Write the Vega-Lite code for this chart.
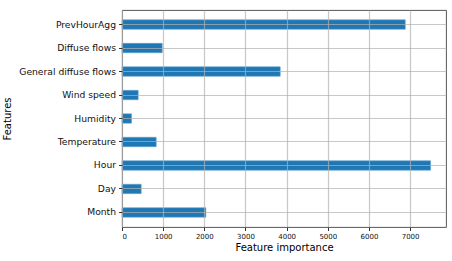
{
  "$schema": "https://vega.github.io/schema/vega-lite/v6.json",
  "autosize": "none",
  "width": 324,
  "height": 217,
  "padding": {"left": 122, "top": 10, "right": 6, "bottom": 34},
  "background": "white",
  "config": {
    "font": "DejaVu Sans",
    "view": {"stroke": "#444444", "strokeWidth": 0.9}
  },
  "data": {
    "values": [
      {"feature": "PrevHourAgg", "importance": 6882},
      {"feature": "Diffuse flows", "importance": 977},
      {"feature": "General diffuse flows", "importance": 3844},
      {"feature": "Wind speed", "importance": 393},
      {"feature": "Humidity", "importance": 231},
      {"feature": "Temperature", "importance": 831},
      {"feature": "Hour", "importance": 7497},
      {"feature": "Day", "importance": 466},
      {"feature": "Month", "importance": 2037}
    ]
  },
  "mark": {"type": "bar", "color": "#1f77b4", "stroke": "#5e9fcf", "strokeWidth": 0.6},
  "encoding": {
    "y": {
      "field": "feature",
      "type": "nominal",
      "sort": null,
      "scale": {"paddingInner": 0.6, "paddingOuter": 0.42},
      "axis": {
        "title": "Features",
        "titleFontSize": 10,
        "titleFontWeight": "normal",
        "titleColor": "#000000",
        "titlePadding": 6,
        "labelFontSize": 9.2,
        "labelColor": "#111111",
        "labelPadding": 3,
        "tickSize": 3.5,
        "tickColor": "#333333",
        "domain": false,
        "grid": true,
        "bandPosition": 0.5,
        "gridColor": "#b0b0b0",
        "gridOpacity": 0.7,
        "gridWidth": 1,
        "zindex": 1
      }
    },
    "x": {
      "field": "importance",
      "type": "quantitative",
      "scale": {"domain": [0, 7872], "nice": false, "zero": true},
      "axis": {
        "title": "Feature importance",
        "titleFontSize": 10,
        "titleFontWeight": "normal",
        "titleColor": "#000000",
        "titlePadding": 3,
        "values": [0, 1000, 2000, 3000, 4000, 5000, 6000, 7000],
        "format": "d",
        "labelFontSize": 7,
        "labelColor": "#111111",
        "labelPadding": 2,
        "tickSize": 3.5,
        "tickColor": "#333333",
        "domain": false,
        "grid": true,
        "gridColor": "#b0b0b0",
        "gridOpacity": 0.7,
        "gridWidth": 1.2,
        "zindex": 1
      }
    }
  }
}
